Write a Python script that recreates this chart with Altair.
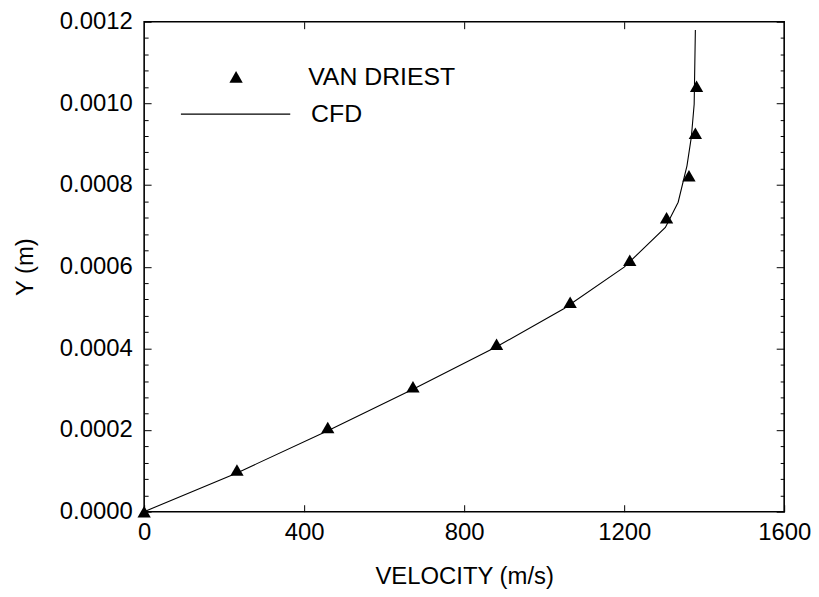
import altair as alt
import pandas as pd

# ---- data ----
vd_velocity = [0, 232, 459, 672, 881, 1065, 1214, 1306, 1362, 1378, 1381]
vd_y = [0.0, 0.000102, 0.000206, 0.000306, 0.000410, 0.000513, 0.000616,
        0.000720, 0.000823, 0.000927, 0.001042]

cfd_velocity = [0, 232, 459, 672, 881, 1049, 1200, 1303, 1335, 1357, 1368, 1375, 1378]
cfd_y = [0.0, 0.000095, 0.000198, 0.000300, 0.000404, 0.000497, 0.000599,
         0.000696, 0.000758, 0.000847, 0.000918, 0.000998, 0.00118]

x_ticks = [0, 400, 800, 1200, 1600]
x_inner_ticks = [400, 800, 1200]
y_ticks = [0.0, 0.0002, 0.0004, 0.0006, 0.0008, 0.0010, 0.0012]
y_minor = [round(m + k * 0.00004, 6) for m in y_ticks[:-1] for k in range(1, 5)]

vd_df = pd.DataFrame({"velocity": vd_velocity, "y": vd_y, "series": "VAN DRIEST"})
cfd_df = pd.DataFrame({"velocity": cfd_velocity, "y": cfd_y, "series": "CFD"})

FONT = "Liberation Sans"
x_scale = alt.Scale(domain=[0, 1600], nice=False, zero=False)
y_scale = alt.Scale(domain=[0, 0.0012], nice=False, zero=False)

common_axis = dict(domain=False, grid=False, tickColor="black", tickWidth=1,
                   labelColor="black", titleColor="black", labelFont=FONT,
                   titleFont=FONT, labelFontSize=24, titleFontSize=24,
                   titleFontWeight="normal")

line = alt.Chart(cfd_df).mark_line(color="black", strokeWidth=1.1).encode(
    x=alt.X("velocity:Q", scale=x_scale,
            axis=alt.Axis(orient="bottom", title="VELOCITY (m/s)", values=x_ticks,
                          format="d", offset=-7, tickSize=7, labelPadding=9,
                          titlePadding=20, labelFlush=False, **common_axis)),
    y=alt.Y("y:Q", scale=y_scale,
            axis=alt.Axis(orient="left", title="Y (m)", values=y_ticks,
                          format=".4f", offset=-7, tickSize=7, labelPadding=12,
                          titlePadding=22, labelFlush=False, **common_axis)),
    color=alt.Color("series:N", scale=alt.Scale(domain=["CFD"], range=["black"]),
                    legend=alt.Legend(orient="none", legendX=36, legendY=37,
                                      title=None, symbolType="stroke",
                                      symbolSize=12100, symbolStrokeWidth=1.1,
                                      symbolStrokeColor="black", labelFont=FONT,
                                      labelFontSize=25, labelColor="black",
                                      labelOffset=20, padding=0)),
    order=alt.Order("y:Q"),
)

points = alt.Chart(vd_df).mark_point(filled=True, color="black", opacity=1, size=180,
                                     shape="triangle-up").encode(
    x=alt.X("velocity:Q", scale=x_scale,
            axis=alt.Axis(orient="top", values=x_inner_ticks, labels=False, title=None,
                          offset=-7, tickSize=7, **common_axis)),
    y=alt.Y("y:Q", scale=y_scale,
            axis=alt.Axis(orient="left", values=y_minor, labels=False, title=None,
                          offset=-4, tickSize=4, **common_axis)),
    shape=alt.Shape("series:N",
                    scale=alt.Scale(domain=["VAN DRIEST"], range=["triangle-up"]),
                    legend=alt.Legend(orient="none", legendX=80, legendY=43,
                                      title=None, symbolSize=180,
                                      symbolFillColor="black", symbolStrokeColor="black",
                                      symbolStrokeWidth=0, labelFont=FONT,
                                      labelFontSize=25, labelColor="black",
                                      labelOffset=60, padding=0)),
)

right_major = alt.Chart(cfd_df).mark_line(strokeOpacity=0).encode(
    x=alt.X("velocity:Q", scale=x_scale, axis=None),
    y=alt.Y("y:Q", scale=y_scale,
            axis=alt.Axis(orient="right", values=y_ticks, labels=False, title=None,
                          offset=-8, tickSize=8, **common_axis)),
)

right_minor = alt.Chart(cfd_df).mark_line(strokeOpacity=0).encode(
    x=alt.X("velocity:Q", scale=x_scale, axis=None),
    y=alt.Y("y:Q", scale=y_scale,
            axis=alt.Axis(orient="right", values=y_minor, labels=False, title=None,
                          offset=-4, tickSize=4, **common_axis)),
)

chart = alt.layer(line, points, right_major, right_minor).resolve_axis(
    x="independent", y="independent"
).properties(
    width=644, height=493,
    padding={"left": 5, "top": 0, "right": 0, "bottom": 0},
    background="white",
).configure_view(
    stroke="black", strokeWidth=1.6
)

chart.save("out.html", embed_options={"renderer": "svg", "actions": False})
